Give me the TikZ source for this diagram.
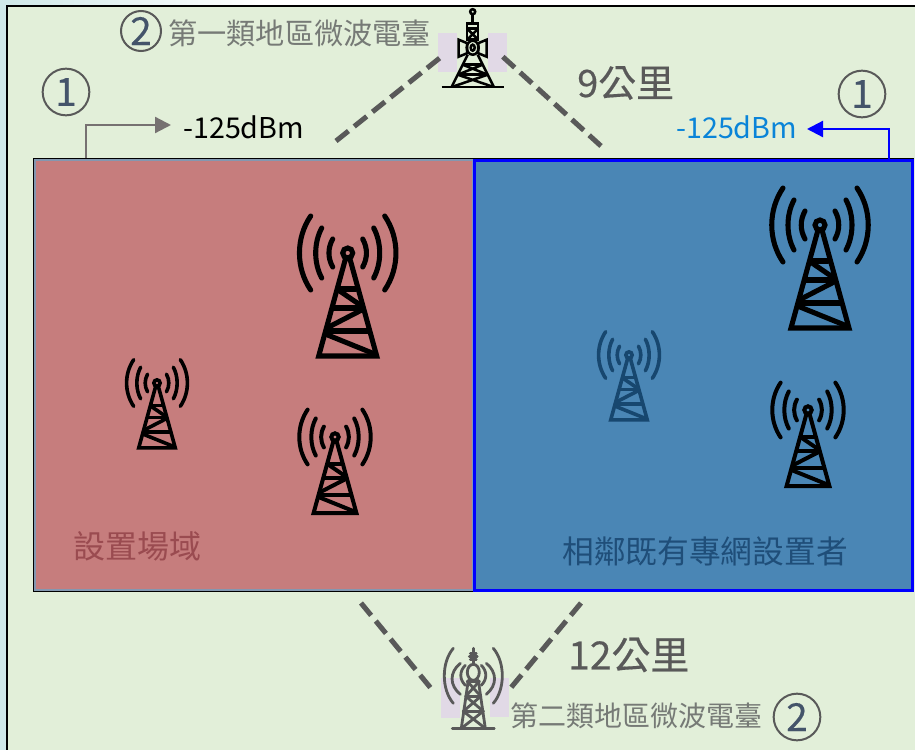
\documentclass[tikz,border=0pt]{standalone}
\usepackage{xcolor}
\usepackage{fontspec}
\setmainfont{Noto Sans CJK TC}
\newfontfamily\heavyfont[FakeBold=0.35]{Noto Sans CJK TC}
\usepackage{tikz}
\usetikzlibrary{arrows.meta,backgrounds}

\definecolor{paleTeal}{HTML}{CFE8E8}
\definecolor{paleGreen}{HTML}{E2EFD9}
\definecolor{siteRed}{HTML}{C67D7D}
\definecolor{siteText}{HTML}{9A4B50}
\definecolor{peerBlue}{HTML}{4A86B5}
\definecolor{peerText}{HTML}{1F4E79}
\definecolor{peerMast}{HTML}{17476F}
\definecolor{slate}{HTML}{8497B0}
\definecolor{lilac}{HTML}{E1D9E6}
\definecolor{darkGrey}{HTML}{595959}
\definecolor{labelGrey}{HTML}{767A76}
\definecolor{arrowGrey}{HTML}{767171}
\definecolor{numBlue}{HTML}{44546A}
\definecolor{dbmBlue}{HTML}{0A84D8}

\tikzset{
mast/.pic={
	\foreach \s in {-1,1} {
		\draw (\s*37,-37) .. controls (\s*52,-15) and (\s*52,15) .. (\s*37,37);
		\draw (\s*26,-25) .. controls (\s*34,-10) and (\s*34,10) .. (\s*26,25);
		\draw (\s*15,-14) .. controls (\s*20,-5) and (\s*20,5) .. (\s*15,14);
	}
	\draw (0,0) circle (5);
	\draw[line join=miter] (-2,5) -- (-29,103) -- (29,103) -- (2,5);
	\draw (-8,36) -- (8,36) (-14,55) -- (14,55) (-21,78) -- (21,78);
	\draw (-8,38) -- (14,53) (14,57) -- (-19,74) (-20,82) -- (27,101);
}}

\begin{document}
\begin{tikzpicture}[x=0.75pt,y=-0.75pt,
box/.style={inner sep=0pt, outer sep=0pt, anchor=north west},
note/.style={inner sep=0pt, anchor=west, text=labelGrey},
dist/.style={inner sep=0pt, anchor=west, text=darkGrey},
dbm/.style={inner sep=0pt, anchor=west, font=\fontsize{21.5}{22}\selectfont},
num/.style={circle, draw=darkGrey, line width=1.5pt, text=numBlue, inner sep=0pt, font=\heavyfont\fontsize{29}{29}\selectfont},
patch/.style={fill=lilac, inner sep=0pt, outer sep=0pt, minimum width=14.25pt, minimum height=29.5pt},
link/.style={darkGrey, line width=3.8pt, dash pattern=on 12pt off 5.5pt},
level/.style={line width=1.7pt, -{Triangle[length=12pt,width=12pt]}}]

\useasboundingbox (0,0) rectangle (915,750);

\fill[paleTeal] (0,0) rectangle (915,750);
\shade[left color=paleTeal, right color=white] (0,0) rectangle (260,6);
\fill[white] (260,0) rectangle (915,6);
\fill[paleGreen] (7,6) rectangle (915,750);
\draw[black, line width=1.4pt] (7,750) -- (7,6) -- (915,6);

\node[box, draw=black, line width=0.9pt, minimum width=660pt, minimum height=324.75pt] (outerBox) at (33.5,158.5) {};
\node[box, fill=siteRed, draw=slate, line width=1.3pt, minimum width=328.5pt, minimum height=322.5pt] (siteBox) at (35,160) {};
\node[box, fill=peerBlue, draw=blue, line width=1.6pt, minimum width=328.5pt, minimum height=322.5pt] (peerBox) at (474.5,160.5) {};

\node[patch] (patchA) at (447.5,52.5) {};
\node[patch] (patchB) at (497.5,52.5) {};
\node[patch] (patchC) at (450.5,698) {};
\node[patch] (patchD) at (499.5,697.5) {};

\coordinate (linkA) at (336,141);
\coordinate (linkB) at (601,146);
\coordinate (linkC) at (361,603);
\coordinate (linkD) at (581,603);
\draw[link] (linkA) -- (441,57);
\draw[link] (linkB) -- (502,56);
\draw[link] (linkC) -- (434,692);
\draw[link] (linkD) -- (509,690);

\pic[scale=1, line width=3.8pt, line cap=round, draw=black] at (347.7,253) {mast};
\pic[scale=1, line width=3.8pt, line cap=round, draw=black] at (820,225) {mast};
\pic[scale=.74, line width=3pt, line cap=round, draw=black] at (335,437) {mast};
\pic[scale=.63, line width=2.7pt, line cap=round, draw=black] at (157,383) {mast};
\pic[scale=.63, line width=2.7pt, line cap=round, draw=peerMast] at (629,355) {mast};
\pic[scale=.74, line width=3pt, line cap=round, draw=black] at (808,410) {mast};

\begin{scope}[shift={(472.7,47.7)}, line width=1.9pt, black]
\draw (0,-36) circle (2.5);
\draw (0,-33.5) -- (0,-24);
\draw (-5.5,-24) rectangle (5.5,-19);
\draw (-5.5,-19) rectangle (5.5,-8);
\draw (-5.5,-19) -- (5.5,-8) (5.5,-19) -- (-5.5,-8);
\foreach \s in {-1,1}
	\draw (\s*5.5,-4.5) -- (\s*14,-8) -- (\s*14,9) -- (\s*5.5,5.5) -- cycle;
\draw (0,0) ellipse (6 and 7);
\draw (0,0) ellipse (2 and 3);
\draw (-5,7) -- (-21,39) (5,7) -- (21,39);
\draw (-10,17) -- (10,17) (-15,27) -- (15,27);
\draw (-10,17) -- (15,27) (10,17) -- (-15,27);
\draw (-15,27) -- (20,39) (15,27) -- (-20,39);
\draw (-31,39.5) -- (31,39.5);
\end{scope}

\begin{scope}[shift={(473.3,672.3)}, line width=2.1pt, darkGrey, line cap=round]
\foreach \s in {-1,1} {
	\draw (\s*20,-24) .. controls (\s*32,-10) and (\s*32,17) .. (\s*20,31);
	\draw (\s*13,-9) .. controls (\s*24,0) and (\s*24,13) .. (\s*13,22);
	\draw (\s*8,-7) .. controls (\s*14,-1) and (\s*14,7) .. (\s*8,13);
}
\draw (0,-24) -- (0,-8);
\draw (-3,-19) -- (3,-19) (-4,-16) -- (4,-16) (-3,-13) -- (3,-13);
\draw (0,0) ellipse (6 and 8);
\draw (-5,8) -- (-12,56) (5,8) -- (12,56);
\draw (-6,9) -- (6,9) (-7.5,24) -- (7.5,24) (-10,39) -- (10,39);
\draw (-6,9) -- (7.5,24) (6,9) -- (-7.5,24);
\draw (-7.5,24) -- (10,39) (7.5,24) -- (-10,39);
\draw (-10,39) -- (12,56) (10,39) -- (-12,56);
\draw (-21,56) -- (21,56);
\end{scope}

\node[note, font=\fontsize{21.9}{22}\selectfont] (noteA) at (168,33) {第一類地區微波電臺};
\node[note, font=\fontsize{21}{21}\selectfont] (noteB) at (510,716) {第二類地區微波電臺};
\node[dist, font=\heavyfont\fontsize{28.4}{29}\selectfont] (distA) at (577,83) {9公里};
\node[dist, font=\heavyfont\fontsize{29.2}{30}\selectfont] (distB) at (568,655) {12公里};
\node[dbm, text=black] (dbmA) at (183,127) {-125dBm};
\node[dbm, text=dbmBlue] (dbmB) at (676,127) {-125dBm};

\node[num, minimum size=35pt] (numA) at (66,92) {1};
\node[num, minimum size=35pt] (numB) at (862,94) {1};
\node[num, minimum size=30pt] (numC) at (141,31) {2};
\node[num, minimum size=35pt] (numD) at (797,717) {2};

\node[inner sep=0pt, anchor=west, text=siteText, font=\fontsize{24}{24}\selectfont] (siteLabel) at (73,546) {設置場域};
\node[inner sep=0pt, anchor=west, text=peerText, font=\fontsize{23.8}{24}\selectfont] (peerLabel) at (562,551) {相鄰既有專網設置者};

\coordinate (levelA) at (86,158);
\coordinate (levelB) at (889,160);
\draw[level, arrowGrey] (levelA) |- (171,125);
\draw[level, blue] (levelB) |- (807,129);
\end{tikzpicture}
\end{document}
